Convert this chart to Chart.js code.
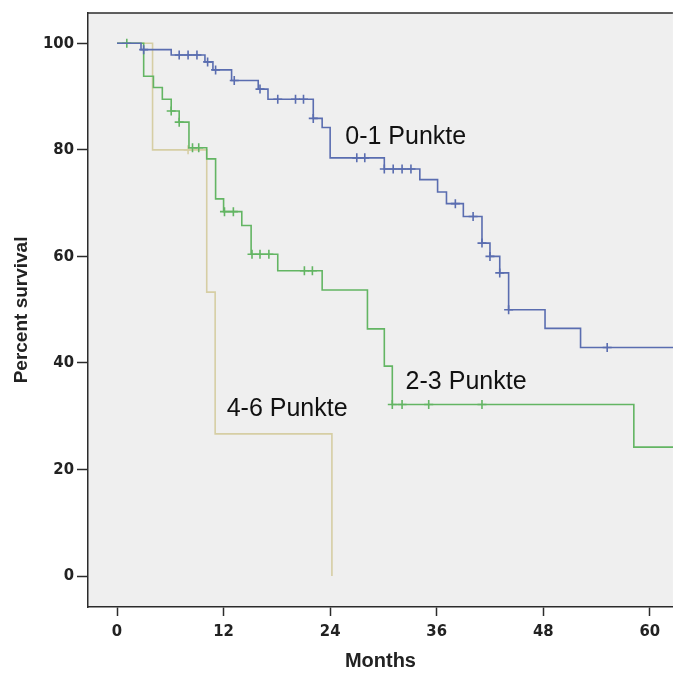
<!DOCTYPE html>
<html>
<head>
<meta charset="utf-8">
<script src="https://cdn.jsdelivr.net/npm/chart.js@4/dist/chart.umd.min.js"></script>
<style>
  html, body { margin: 0; padding: 0; background: #fff; overflow: hidden; }
  #wrap { width: 673px; height: 673px; overflow: hidden; }
</style>
</head>
<body>
<div id="wrap"><canvas id="km" width="679" height="673"></canvas></div>
<script>
// Kaplan-Meier curves by score group (months vs percent survival)

const monthTicks   = [0, 12, 24, 36, 48, 60];
const percentTicks = [0, 20, 40, 60, 80, 100];

// 0-1 Punkte
const g01Times    = [0, 2.7, 6.1, 9.9, 10.8, 12.9, 15.9, 17.0, 22.1, 23.1, 24.0, 30.1, 34.1, 36.1, 37.1, 39.0, 41.1, 42.0, 43.1, 44.1, 48.2, 52.2, 63.5];
const g01Surv     = [100, 98.8, 97.8, 96.5, 95.0, 93.0, 91.4, 89.5, 85.9, 84.2, 78.5, 76.4, 74.4, 72.1, 69.9, 67.5, 62.5, 60.0, 56.9, 50.0, 46.5, 42.9, 42.9];
const g01Censored = [3.0, 7.0, 8.0, 9.0, 10.2, 11.1, 13.2, 16.1, 18.1, 20.1, 21.0, 22.1, 27.0, 27.9, 30.1, 31.1, 32.1, 33.1, 38.1, 40.1, 41.1, 42.0, 43.1, 44.1, 55.2];

// 2-3 Punkte
const g23Times    = [0, 3.0, 4.1, 5.1, 6.1, 7.0, 8.1, 10.1, 11.1, 12.0, 14.05, 15.1, 18.1, 23.1, 28.2, 30.1, 31.0, 58.2, 63.5];
const g23Surv     = [100, 93.8, 91.7, 89.5, 87.3, 85.2, 80.4, 78.3, 70.8, 68.4, 65.8, 60.4, 57.3, 53.7, 46.4, 39.4, 32.2, 24.2, 24.2];
const g23Censored = [1.1, 6.1, 7.0, 8.5, 9.2, 12.1, 13.1, 15.2, 16.1, 17.1, 21.1, 22.0, 31.0, 32.1, 35.1, 41.1];

// 4-6 Punkte
const g46Times    = [0, 4.0, 10.1, 11.05, 24.2];
const g46Surv     = [100, 80.0, 53.3, 26.7, 0];
const g46Censored = [8.0];

const groupNames = ["0-1 Punkte", "2-3 Punkte", "4-6 Punkte"];

const BLUE  = "#5a6db0";
const GREEN = "#63b563";
const TAN   = "#d6cea4";
const FRAME = "#2b2b2b";

/* survival level at time t (value after any drop at t) */
function survAt(times, surv, t) {
  let s = surv[0];
  for (let i = 0; i < times.length; i++) if (times[i] <= t) s = surv[i];
  return s;
}
const curve   = (times, surv) => times.map((t, i) => ({ x: t, y: surv[i] }));
const censors = (times, surv, cens) => cens.map(t => ({ x: t, y: survAt(times, surv, t) }));

function stepSet(label, times, surv, color, order) {
  return { label, data: curve(times, surv), showLine: true, stepped: true,
           borderColor: color, borderWidth: 1.6, pointRadius: 0, order };
}
function censorSet(label, times, surv, cens, color, order) {
  return { label, data: censors(times, surv, cens), showLine: false,
           pointStyle: "cross", pointRadius: 4.5, borderColor: color,
           borderWidth: 1.6, order };
}

/* plot background + top frame line */
const plotFrame = {
  id: "plotFrame",
  beforeDraw(chart) {
    const { ctx, chartArea: a } = chart;
    ctx.save();
    ctx.fillStyle = "#efefef";
    ctx.fillRect(a.left, a.top, a.right - a.left, a.bottom - a.top);
    ctx.restore();
  },
  afterDraw(chart) {
    const { ctx, chartArea: a } = chart;
    ctx.save();
    ctx.strokeStyle = FRAME;
    ctx.lineWidth = 1.5;
    ctx.beginPath();
    ctx.moveTo(a.left, a.top);
    ctx.lineTo(a.right, a.top);
    ctx.stroke();
    ctx.restore();
  }
};

/* group labels anchored in data coordinates */
const groupLabels = {
  id: "groupLabels",
  afterDatasetsDraw(chart) {
    const { ctx, scales: { x, y } } = chart;
    const spots = [[25.7, 82.4], [32.5, 36.5], [12.35, 31.3]];
    ctx.save();
    ctx.font = '25px "Liberation Sans", Arial, sans-serif';
    ctx.fillStyle = "#111";
    ctx.textBaseline = "middle";
    ctx.textAlign = "left";
    groupNames.forEach((name, i) => {
      ctx.fillText(name, x.getPixelForValue(spots[i][0]), y.getPixelForValue(spots[i][1]));
    });
    ctx.restore();
  }
};

const tickFont  = { family: '"Liberation Sans Narrow", "DejaVu Sans Condensed", Arial, sans-serif', weight: "bold", size: 16.5 };
const titleFont = '"Liberation Sans", Arial, sans-serif';

new Chart(document.getElementById("km"), {
  type: "scatter",
  data: {
    datasets: [
      stepSet(groupNames[2], g46Times, g46Surv, TAN, 3),
      censorSet(groupNames[2] + " censored", g46Times, g46Surv, g46Censored, TAN, 3),
      stepSet(groupNames[1], g23Times, g23Surv, GREEN, 2),
      censorSet(groupNames[1] + " censored", g23Times, g23Surv, g23Censored, GREEN, 2),
      stepSet(groupNames[0], g01Times, g01Surv, BLUE, 1),
      censorSet(groupNames[0] + " censored", g01Times, g01Surv, g01Censored, BLUE, 1),
    ],
  },
  options: {
    responsive: false,
    animation: false,
    layout: { padding: { top: 11, right: 0, left: 0, bottom: 0 } },
    plugins: { legend: { display: false }, tooltip: { enabled: false } },
    scales: {
      x: {
        type: "linear", min: -3.27, max: 62.6,
        afterBuildTicks: s => { s.ticks = monthTicks.map(v => ({ value: v })); },
        afterFit: s => { s.height = 66; },
        ticks: { color: "#222", font: tickFont, padding: 6, maxRotation: 0 },
        grid: { drawOnChartArea: false, drawTicks: true, tickLength: 9, tickColor: FRAME, tickWidth: 1.5 },
        border: { display: true, color: FRAME, width: 1.5 },
        title: { display: true, text: "Months", color: "#222",
                 font: { family: titleFont, weight: "bold", size: 20 },
                 padding: { top: 0, bottom: 0 } },
      },
      y: {
        type: "linear", min: -5.8, max: 105.7,
        afterBuildTicks: s => { s.ticks = percentTicks.map(v => ({ value: v })); },
        afterFit: s => { s.width = 88; },
        ticks: { color: "#222", font: tickFont, padding: 3 },
        grid: { drawOnChartArea: false, drawTicks: true, tickLength: 11, tickColor: FRAME, tickWidth: 1.5 },
        border: { display: true, color: FRAME, width: 1.5 },
        title: { display: true, text: "Percent survival", color: "#222",
                 font: { family: titleFont, weight: "bold", size: 19 },
                 padding: { top: 10, bottom: 0 } },
      },
    },
  },
  plugins: [plotFrame, groupLabels],
});
</script>
</body>
</html>
